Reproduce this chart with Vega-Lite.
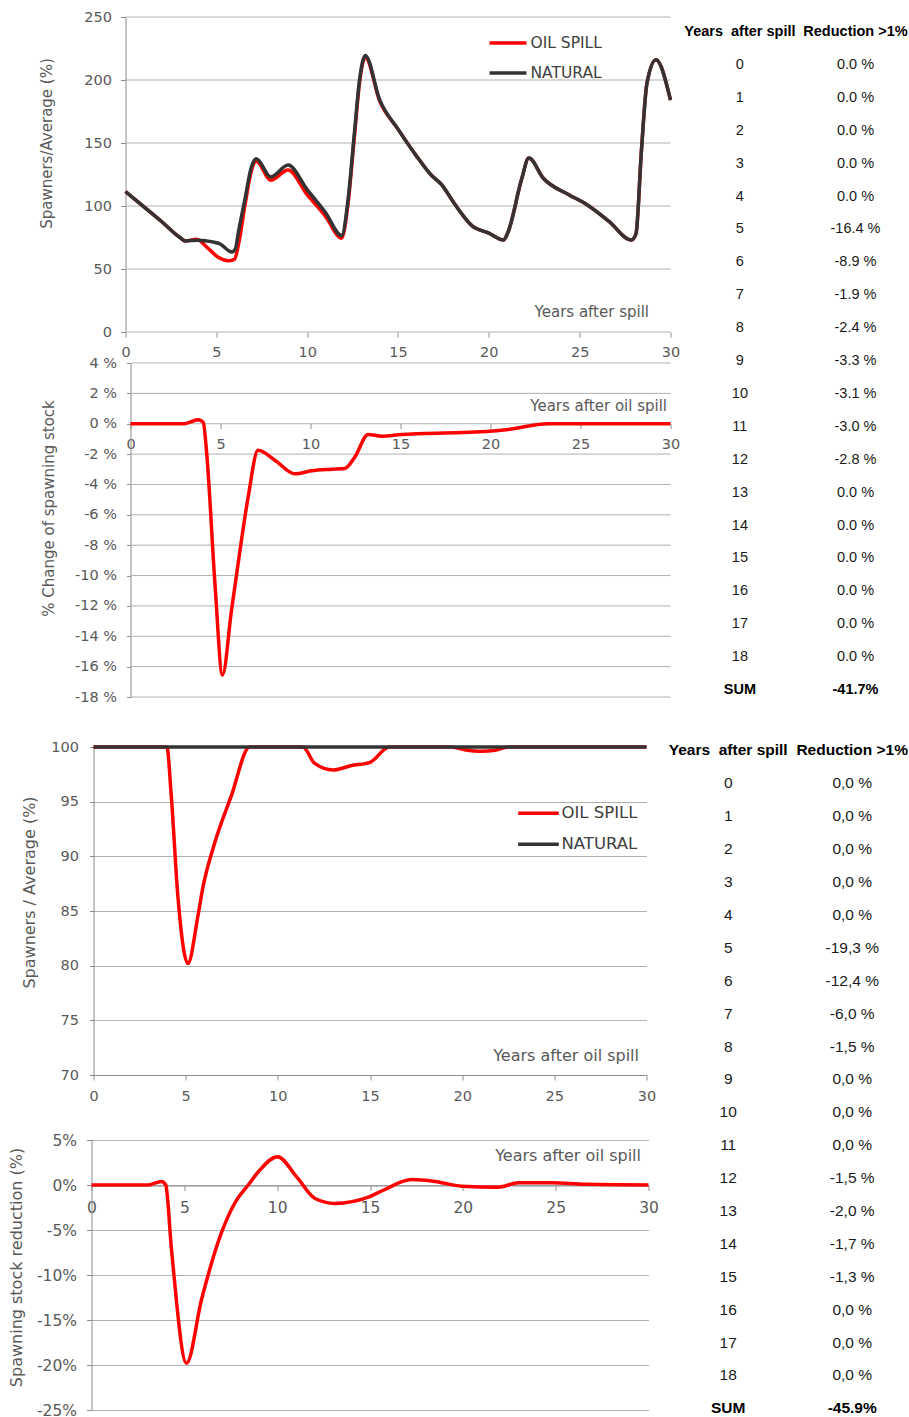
{
  "$schema": "https://vega.github.io/schema/vega-lite/v6.json",
  "background": "white",
  "padding": {"left": 7.5, "top": 9, "right": 0, "bottom": 0},
  "config": {
    "view": {"stroke": null},
    "font": "DejaVu Sans",
    "axis": {
      "labelColor": "#595959", "titleColor": "#595959", "titleFontWeight": "normal",
      "domainColor": "#8c8c8c", "tickColor": "#8c8c8c", "gridColor": "#b0b0b0",
      "labelFont": "DejaVu Sans", "titleFont": "DejaVu Sans", "labelFlush": false, "labelOverlap": false
    }
  },
  "datasets": {
    "p1grid": [{"g":0},{"g":50},{"g":100},{"g":150},{"g":200},{"g":250}],
    "p2grid": [{"g":-18},{"g":-16},{"g":-14},{"g":-12},{"g":-10},{"g":-8},{"g":-6},{"g":-4},{"g":-2},{"g":0},{"g":2},{"g":4}],
    "p1nat": [
      {"x":0,"v":111.5},{"x":1,"v":99.5},{"x":2,"v":87.5},{"x":3,"v":75},{"x":3.3,"v":72.3},{"x":4,"v":72.8},{"x":4.8,"v":71.5},{"x":5.2,"v":70},{"x":5.85,"v":63.5},{"x":6.05,"v":66},{"x":6.2,"v":78},{"x":6.57,"v":105},{"x":6.93,"v":131},{"x":7.2,"v":137.5},{"x":8,"v":123},{"x":8.95,"v":132.5},{"x":10,"v":113},{"x":11,"v":95},{"x":11.9,"v":76.5},{"x":12.25,"v":105},{"x":12.6,"v":158},{"x":12.9,"v":202},{"x":13.2,"v":219.5},{"x":14,"v":184},{"x":15,"v":161},{"x":16,"v":140},{"x":16.8,"v":125},{"x":17.4,"v":117},{"x":18.1,"v":102},{"x":19.1,"v":84},{"x":20,"v":78.5},{"x":20.8,"v":73},{"x":21.05,"v":79},{"x":21.8,"v":121},{"x":22.2,"v":138},{"x":23,"v":122},{"x":24.4,"v":109},{"x":25.3,"v":102},{"x":26.6,"v":88},{"x":27.85,"v":73},{"x":28.1,"v":78},{"x":28.4,"v":144},{"x":28.7,"v":197},{"x":29.2,"v":216},{"x":30,"v":184}
    ],
    "p1oil": [
      {"x":0,"v":111.5},{"x":1,"v":99.5},{"x":2,"v":87.5},{"x":3,"v":75},{"x":3.3,"v":72.3},{"x":3.9,"v":73.6},{"x":4.55,"v":66.4},{"x":5.1,"v":59.3},{"x":5.65,"v":56.6},{"x":6.0,"v":57.7},{"x":6.2,"v":68},{"x":6.57,"v":100},{"x":6.93,"v":128},{"x":7.2,"v":135.5},{"x":8,"v":120.5},{"x":8.95,"v":128.5},{"x":10,"v":109},{"x":11,"v":92},{"x":11.9,"v":74.5},{"x":12.25,"v":102},{"x":12.6,"v":155},{"x":12.9,"v":200},{"x":13.2,"v":218},{"x":14,"v":183},{"x":15,"v":161},{"x":16,"v":140},{"x":16.8,"v":125},{"x":17.4,"v":117},{"x":18.1,"v":102},{"x":19.1,"v":84},{"x":20,"v":78.5},{"x":20.8,"v":73},{"x":21.05,"v":79},{"x":21.8,"v":121},{"x":22.2,"v":138},{"x":23,"v":122},{"x":24.4,"v":109},{"x":25.3,"v":102},{"x":26.6,"v":88},{"x":27.85,"v":73},{"x":28.1,"v":78},{"x":28.4,"v":144},{"x":28.7,"v":197},{"x":29.2,"v":216},{"x":30,"v":184}
    ],
    "p2": [
      {"x":0,"v":0},{"x":1,"v":0},{"x":2,"v":0},{"x":3,"v":0},{"x":3.4,"v":0.15},{"x":3.76,"v":0.27},{"x":4.04,"v":0.1},{"x":4.22,"v":-1.75},{"x":4.69,"v":-10.5},{"x":5.11,"v":-16.55},{"x":5.61,"v":-12.3},{"x":5.98,"v":-9.2},{"x":6.54,"v":-4.8},{"x":7.09,"v":-1.75},{"x":8.02,"v":-2.4},{"x":9.13,"v":-3.3},{"x":10.06,"v":-3.1},{"x":11.17,"v":-3.0},{"x":11.9,"v":-2.95},{"x":12.46,"v":-2.2},{"x":13.2,"v":-0.71},{"x":13.94,"v":-0.82},{"x":15.06,"v":-0.71},{"x":18.4,"v":-0.58},{"x":19.96,"v":-0.49},{"x":20.98,"v":-0.38},{"x":23.2,"v":0},{"x":30,"v":0}
    ],
    "p3nat": [{"x":0,"v":100},{"x":30,"v":100}],
    "p3oil": [
      {"x":0,"v":100},{"x":3.98,"v":100},{"x":4.22,"v":95.5},{"x":4.58,"v":86.3},{"x":5.12,"v":80.2},{"x":5.66,"v":84.5},{"x":5.94,"v":87.2},{"x":6.57,"v":91.2},{"x":7.47,"v":95.5},{"x":8.47,"v":100},{"x":11.36,"v":100},{"x":12,"v":98.5},{"x":13,"v":97.9},{"x":14,"v":98.3},{"x":15,"v":98.6},{"x":16.05,"v":100},{"x":19.4,"v":100},{"x":20.3,"v":99.7},{"x":21,"v":99.6},{"x":21.8,"v":99.7},{"x":22.5,"v":100},{"x":30,"v":100}
    ],
    "p4": [
      {"x":0,"v":0},{"x":3.05,"v":0},{"x":3.77,"v":0.4},{"x":4.0,"v":0},{"x":4.31,"v":-7.2},{"x":5.12,"v":-19.8},{"x":5.93,"v":-12.7},{"x":7.0,"v":-5.3},{"x":7.72,"v":-2.0},{"x":8.44,"v":0},{"x":9,"v":1.5},{"x":10.02,"v":3.15},{"x":11.05,"v":0.9},{"x":12.04,"v":-1.5},{"x":13.1,"v":-2.05},{"x":14.98,"v":-1.3},{"x":15.8,"v":-0.5},{"x":17.24,"v":0.6},{"x":18.5,"v":0.4},{"x":19.94,"v":-0.13},{"x":21.9,"v":-0.24},{"x":23.0,"v":0.24},{"x":24.8,"v":0.24},{"x":26.6,"v":0.07},{"x":30,"v":0}
    ],
    "t1": [
      {"r":-1,"a":"Years\u00a0 after spill","b":"Reduction >1%","w":1},
      {"r":0,"a":"0","b":"0.0 %","w":0},{"r":1,"a":"1","b":"0.0 %","w":0},{"r":2,"a":"2","b":"0.0 %","w":0},{"r":3,"a":"3","b":"0.0 %","w":0},{"r":4,"a":"4","b":"0.0 %","w":0},
      {"r":5,"a":"5","b":"-16.4 %","w":0},{"r":6,"a":"6","b":"-8.9 %","w":0},{"r":7,"a":"7","b":"-1.9 %","w":0},{"r":8,"a":"8","b":"-2.4 %","w":0},{"r":9,"a":"9","b":"-3.3 %","w":0},
      {"r":10,"a":"10","b":"-3.1 %","w":0},{"r":11,"a":"11","b":"-3.0 %","w":0},{"r":12,"a":"12","b":"-2.8 %","w":0},{"r":13,"a":"13","b":"0.0 %","w":0},{"r":14,"a":"14","b":"0.0 %","w":0},
      {"r":15,"a":"15","b":"0.0 %","w":0},{"r":16,"a":"16","b":"0.0 %","w":0},{"r":17,"a":"17","b":"0.0 %","w":0},{"r":18,"a":"18","b":"0.0 %","w":0},
      {"r":19,"a":"SUM","b":"-41.7%","w":1}
    ],
    "t2": [
      {"r":-1,"a":"Years\u00a0 after spill","b":"Reduction >1%","w":1},
      {"r":0,"a":"0","b":"0,0 %","w":0},{"r":1,"a":"1","b":"0,0 %","w":0},{"r":2,"a":"2","b":"0,0 %","w":0},{"r":3,"a":"3","b":"0,0 %","w":0},{"r":4,"a":"4","b":"0,0 %","w":0},
      {"r":5,"a":"5","b":"-19,3 %","w":0},{"r":6,"a":"6","b":"-12,4 %","w":0},{"r":7,"a":"7","b":"-6,0 %","w":0},{"r":8,"a":"8","b":"-1,5 %","w":0},{"r":9,"a":"9","b":"0,0 %","w":0},
      {"r":10,"a":"10","b":"0,0 %","w":0},{"r":11,"a":"11","b":"0,0 %","w":0},{"r":12,"a":"12","b":"-1,5 %","w":0},{"r":13,"a":"13","b":"-2,0 %","w":0},{"r":14,"a":"14","b":"-1,7 %","w":0},
      {"r":15,"a":"15","b":"-1,3 %","w":0},{"r":16,"a":"16","b":"0,0 %","w":0},{"r":17,"a":"17","b":"0,0 %","w":0},{"r":18,"a":"18","b":"0,0 %","w":0},
      {"r":19,"a":"SUM","b":"-45.9%","w":1}
    ]
  },
  "resolve": {"scale": {"color": "independent"}, "legend": {"color": "independent"}},
  "bounds": "flush",
  "spacing": 0,
  "columns": 2,
  "concat": [
    {
      "width": 579, "height": 315,
      "layer": [
        {
          "data": {"name": "p1grid"},
          "mark": {"type": "rule", "color": "#b0b0b0", "strokeWidth": 1},
          "encoding": {
            "y": {"field": "g", "type": "quantitative", "scale": {"domain": [0, 250], "nice": false},
              "axis": {"title": "Spawners/Average (%)", "offset": -34, "values": [0,50,100,150,200,250], "labelOverlap": false, "tickSize": 5, "labelPadding": 9, "labelFontSize": 14.5, "titleFontSize": 15, "grid": false, "titleX": -79, "titleY": 126, "titleAlign": "center", "titleBaseline": "middle"}},
            "x": {"datum": 0, "type": "quantitative"},
            "x2": {"datum": 30}
          }
        },
        {
          "data": {"name": "p1oil"},
          "mark": {"type": "line", "interpolate": "monotone", "strokeWidth": 3.5},
          "encoding": {
            "x": {"field": "x", "type": "quantitative", "scale": {"domain": [-1.8713, 30], "nice": false, "zero": false},
              "axis": {"title": "Years after spill", "domain": false, "values": [0,5,10,15,20,25,30], "tickSize": 5, "labelPadding": 8.5, "labelFontSize": 14.5, "titleFontSize": 15, "grid": false, "titleX": 557, "titleY": -21, "titleAlign": "right", "titleBaseline": "middle"}},
            "y": {"field": "v", "type": "quantitative", "scale": {"domain": [0, 250], "nice": false},
              "axis": {"title": "Spawners/Average (%)", "offset": -34, "values": [0,50,100,150,200,250], "labelOverlap": false, "tickSize": 5, "labelPadding": 9, "labelFontSize": 14.5, "titleFontSize": 15, "grid": false, "titleX": -79, "titleY": 126, "titleAlign": "center", "titleBaseline": "middle"}},
            "color": {"datum": "OIL SPILL", "scale": {"domain": ["OIL SPILL", "NATURAL"], "range": ["#ff0000", "#333333"]},
              "legend": {"orient": "none", "legendX": 396, "legendY": 18, "title": null, "symbolType": "stroke", "symbolSize": 1369, "symbolStrokeWidth": 3.5, "labelFontSize": 15.5, "labelFont": "DejaVu Sans", "labelColor": "#404040", "clipHeight": 16, "rowPadding": 13, "labelOffset": 2, "padding": 0}}
          }
        },
        {
          "data": {"name": "p1nat"},
          "mark": {"type": "line", "interpolate": "monotone", "strokeWidth": 3.5},
          "encoding": {
            "x": {"field": "x", "type": "quantitative"},
            "y": {"field": "v", "type": "quantitative"},
            "color": {"datum": "NATURAL"}
          }
        }
      ]
    },
    {
      "width": 240, "height": 315,
      "data": {"name": "t1"},
      "transform": [{"filter": "datum.r <= 8"}],
      "encoding": {
        "y": {"field": "r", "type": "quantitative", "scale": {"domain": [-1.459, 8.116], "reverse": true, "nice": false, "zero": false}, "axis": null}
      },
      "layer": [
        {"transform": [{"filter": "datum.w == 0"}], "mark": {"type": "text", "font": "Liberation Sans", "fontSize": 14.5, "color": "#1a1a1a", "align": "center", "baseline": "middle"},
         "encoding": {"x": {"datum": 0, "type": "quantitative", "scale": {"domain": [-0.6003, 1.4758], "nice": false, "zero": false}, "axis": null}, "text": {"field": "a"}}},
        {"transform": [{"filter": "datum.w == 0"}], "mark": {"type": "text", "font": "Liberation Sans", "fontSize": 14.5, "color": "#1a1a1a", "align": "center", "baseline": "middle"},
         "encoding": {"x": {"datum": 1, "type": "quantitative"}, "text": {"field": "b"}}},
        {"transform": [{"filter": "datum.w == 1"}], "mark": {"type": "text", "font": "Liberation Sans", "fontSize": 14.5, "fontWeight": "bold", "color": "#000000", "align": "center", "baseline": "middle"},
         "encoding": {"x": {"datum": 0, "type": "quantitative"}, "text": {"field": "a"}}},
        {"transform": [{"filter": "datum.w == 1"}], "mark": {"type": "text", "font": "Liberation Sans", "fontSize": 14.5, "fontWeight": "bold", "color": "#000000", "align": "center", "baseline": "middle"},
         "encoding": {"x": {"datum": 1, "type": "quantitative"}, "text": {"field": "b"}}}
      ]
    },
    {"width": 1, "height": 31, "data": {"values": [{"a": 0}]}, "mark": {"type": "point", "opacity": 0}},
    {"width": 1, "height": 31, "data": {"values": [{"a": 0}]}, "mark": {"type": "point", "opacity": 0}},
    {
      "width": 579, "height": 334,
      "layer": [
        {
          "data": {"name": "p2grid"},
          "mark": {"type": "rule", "color": "#b0b0b0", "strokeWidth": 1},
          "encoding": {
            "y": {"field": "g", "type": "quantitative", "scale": {"domain": [-18, 4], "nice": false},
              "axis": {"title": "% Change of spawning stock", "offset": -39, "values": [-18,-16,-14,-12,-10,-8,-6,-4,-2,0,2,4], "labelOverlap": false, "labelExpr": "datum.value + ' %'", "tickSize": 4, "labelPadding": 10, "labelFontSize": 14.5, "titleFontSize": 15, "grid": false, "titleX": -82, "titleY": 145, "titleAlign": "center", "titleBaseline": "middle"}},
            "x": {"datum": 0, "type": "quantitative"},
            "x2": {"datum": 30}
          }
        },
        {
          "data": {"name": "p2"},
          "mark": {"type": "line", "interpolate": "monotone", "strokeWidth": 3.5, "color": "#ff0000"},
          "encoding": {
            "x": {"field": "x", "type": "quantitative", "scale": {"domain": [-2.1667, 30], "nice": false, "zero": false},
              "axis": {"title": "Years after oil spill", "domain": false, "offset": -273.5, "values": [0,5,10,15,20,25,30], "tickSize": 5, "labelPadding": 9, "labelFontSize": 14.5, "titleFontSize": 15, "grid": false, "titleX": 575, "titleY": -18.5, "titleAlign": "right", "titleBaseline": "middle"}},
            "y": {"field": "v", "type": "quantitative", "scale": {"domain": [-18, 4], "nice": false},
              "axis": {"title": "% Change of spawning stock", "offset": -39, "values": [-18,-16,-14,-12,-10,-8,-6,-4,-2,0,2,4], "labelOverlap": false, "labelExpr": "datum.value + ' %'", "tickSize": 4, "labelPadding": 10, "labelFontSize": 14.5, "titleFontSize": 15, "grid": false, "titleX": -82, "titleY": 145, "titleAlign": "center", "titleBaseline": "middle"}}
          }
        }
      ]
    },
    {
      "width": 240, "height": 334,
      "data": {"name": "t1"},
      "transform": [{"filter": "datum.r >= 9"}],
      "encoding": {
        "y": {"field": "r", "type": "quantitative", "scale": {"domain": [9.058, 19.21], "reverse": true, "nice": false, "zero": false}, "axis": null}
      },
      "layer": [
        {"transform": [{"filter": "datum.w == 0"}], "mark": {"type": "text", "font": "Liberation Sans", "fontSize": 14.5, "color": "#1a1a1a", "align": "center", "baseline": "middle"},
         "encoding": {"x": {"datum": 0, "type": "quantitative", "scale": {"domain": [-0.6003, 1.4758], "nice": false, "zero": false}, "axis": null}, "text": {"field": "a"}}},
        {"transform": [{"filter": "datum.w == 0"}], "mark": {"type": "text", "font": "Liberation Sans", "fontSize": 14.5, "color": "#1a1a1a", "align": "center", "baseline": "middle"},
         "encoding": {"x": {"datum": 1, "type": "quantitative"}, "text": {"field": "b"}}},
        {"transform": [{"filter": "datum.w == 1"}], "mark": {"type": "text", "font": "Liberation Sans", "fontSize": 14.5, "fontWeight": "bold", "color": "#000000", "align": "center", "baseline": "middle"},
         "encoding": {"x": {"datum": 0, "type": "quantitative"}, "text": {"field": "a"}}},
        {"transform": [{"filter": "datum.w == 1"}], "mark": {"type": "text", "font": "Liberation Sans", "fontSize": 14.5, "fontWeight": "bold", "color": "#000000", "align": "center", "baseline": "middle"},
         "encoding": {"x": {"datum": 1, "type": "quantitative"}, "text": {"field": "b"}}}
      ]
    },
    {"width": 1, "height": 50, "data": {"values": [{"a": 0}]}, "mark": {"type": "point", "opacity": 0}},
    {"width": 1, "height": 50, "data": {"values": [{"a": 0}]}, "mark": {"type": "point", "opacity": 0}},
    {
      "width": 555, "height": 328,
      "layer": [
        {
          "data": {"name": "p3oil"},
          "mark": {"type": "line", "interpolate": "monotone", "strokeWidth": 3.5},
          "encoding": {
            "x": {"field": "x", "type": "quantitative", "scale": {"domain": [-0.1085, 30], "nice": false, "zero": false},
              "axis": {"title": "Years after oil spill", "values": [0,5,10,15,20,25,30], "tickSize": 5, "labelPadding": 9, "labelFontSize": 14.5, "titleFontSize": 16, "grid": false, "titleX": 547, "titleY": -20, "titleAlign": "right", "titleBaseline": "middle"}},
            "y": {"field": "v", "type": "quantitative", "scale": {"domain": [70, 100], "nice": false, "zero": false},
              "axis": {"title": "Spawners / Average (%)", "offset": -2, "values": [70,75,80,85,90,95,100], "tickSize": 4, "labelPadding": 11, "labelFontSize": 14.5, "titleFontSize": 16, "grid": true, "titleX": -64, "titleY": 145, "titleAlign": "center", "titleBaseline": "middle"}},
            "color": {"datum": "OIL SPILL", "scale": {"domain": ["OIL SPILL", "NATURAL"], "range": ["#ff0000", "#333333"]},
              "legend": {"orient": "none", "legendX": 424.5, "legendY": 57.8, "title": null, "symbolType": "stroke", "symbolSize": 1648, "symbolStrokeWidth": 3.5, "labelFontSize": 16.5, "labelFont": "DejaVu Sans", "labelColor": "#404040", "clipHeight": 17, "rowPadding": 14, "labelOffset": 0.5, "padding": 0}}
          }
        },
        {
          "data": {"name": "p3nat"},
          "mark": {"type": "line", "strokeWidth": 3.5},
          "encoding": {
            "x": {"field": "x", "type": "quantitative"},
            "y": {"field": "v", "type": "quantitative"},
            "color": {"datum": "NATURAL"}
          }
        }
      ]
    },
    {
      "width": 240, "height": 328,
      "data": {"name": "t2"},
      "transform": [{"filter": "datum.r <= 10"}],
      "encoding": {
        "y": {"field": "r", "type": "quantitative", "scale": {"domain": [-1.1033, 8.866], "reverse": true, "nice": false, "zero": false}, "axis": null}
      },
      "layer": [
        {"transform": [{"filter": "datum.w == 0"}], "mark": {"type": "text", "font": "Liberation Sans", "fontSize": 15.5, "color": "#1a1a1a", "align": "center", "baseline": "middle"},
         "encoding": {"x": {"datum": 0, "type": "quantitative", "scale": {"domain": [-0.4653, 1.4702], "nice": false, "zero": false}, "axis": null}, "text": {"field": "a"}}},
        {"transform": [{"filter": "datum.w == 0"}], "mark": {"type": "text", "font": "Liberation Sans", "fontSize": 15.5, "color": "#1a1a1a", "align": "center", "baseline": "middle"},
         "encoding": {"x": {"datum": 1, "type": "quantitative"}, "text": {"field": "b"}}},
        {"transform": [{"filter": "datum.w == 1"}], "mark": {"type": "text", "font": "Liberation Sans", "fontSize": 15.5, "fontWeight": "bold", "color": "#000000", "align": "center", "baseline": "middle"},
         "encoding": {"x": {"datum": 0, "type": "quantitative"}, "text": {"field": "a"}}},
        {"transform": [{"filter": "datum.w == 1"}], "mark": {"type": "text", "font": "Liberation Sans", "fontSize": 15.5, "fontWeight": "bold", "color": "#000000", "align": "center", "baseline": "middle"},
         "encoding": {"x": {"datum": 1, "type": "quantitative"}, "text": {"field": "b"}}}
      ]
    },
    {"width": 1, "height": 65, "data": {"values": [{"a": 0}]}, "mark": {"type": "point", "opacity": 0}},
    {"width": 1, "height": 65, "data": {"values": [{"a": 0}]}, "mark": {"type": "point", "opacity": 0}},
    {
      "width": 557, "height": 270,
      "data": {"name": "p4"},
      "mark": {"type": "line", "interpolate": "monotone", "strokeWidth": 3.5, "color": "#ff0000"},
      "encoding": {
        "x": {"field": "x", "type": "quantitative", "scale": {"domain": [0, 30], "nice": false},
          "axis": {"title": "Years after oil spill", "offset": -224.5, "values": [0,5,10,15,20,25,30], "tickSize": 5, "labelPadding": 9.5, "labelFontSize": 15.5, "titleFontSize": 16, "grid": false, "titleX": 549, "titleY": -30.5, "titleAlign": "right", "titleBaseline": "middle"}},
        "y": {"field": "v", "type": "quantitative", "scale": {"domain": [-25, 5], "nice": false},
          "axis": {"title": "Spawning stock reduction (%)", "values": [-25,-20,-15,-10,-5,0,5], "labelExpr": "datum.value + '%'", "tickSize": 5, "labelPadding": 10, "labelFontSize": 15.5, "titleFontSize": 16, "grid": true, "titleX": -75, "titleY": 127, "titleAlign": "center", "titleBaseline": "middle"}}
      }
    },
    {
      "width": 240, "height": 270,
      "data": {"name": "t2"},
      "transform": [{"filter": "datum.r >= 11"}],
      "encoding": {
        "y": {"field": "r", "type": "quantitative", "scale": {"domain": [10.842, 19.049], "reverse": true, "nice": false, "zero": false}, "axis": null}
      },
      "layer": [
        {"transform": [{"filter": "datum.w == 0"}], "mark": {"type": "text", "font": "Liberation Sans", "fontSize": 15.5, "color": "#1a1a1a", "align": "center", "baseline": "middle"},
         "encoding": {"x": {"datum": 0, "type": "quantitative", "scale": {"domain": [-0.4653, 1.4702], "nice": false, "zero": false}, "axis": null}, "text": {"field": "a"}}},
        {"transform": [{"filter": "datum.w == 0"}], "mark": {"type": "text", "font": "Liberation Sans", "fontSize": 15.5, "color": "#1a1a1a", "align": "center", "baseline": "middle"},
         "encoding": {"x": {"datum": 1, "type": "quantitative"}, "text": {"field": "b"}}},
        {"transform": [{"filter": "datum.w == 1"}], "mark": {"type": "text", "font": "Liberation Sans", "fontSize": 15.5, "fontWeight": "bold", "color": "#000000", "align": "center", "baseline": "middle"},
         "encoding": {"x": {"datum": 0, "type": "quantitative"}, "text": {"field": "a"}}},
        {"transform": [{"filter": "datum.w == 1"}], "mark": {"type": "text", "font": "Liberation Sans", "fontSize": 15.5, "fontWeight": "bold", "color": "#000000", "align": "center", "baseline": "middle"},
         "encoding": {"x": {"datum": 1, "type": "quantitative"}, "text": {"field": "b"}}}
      ]
    }
  ]
}
